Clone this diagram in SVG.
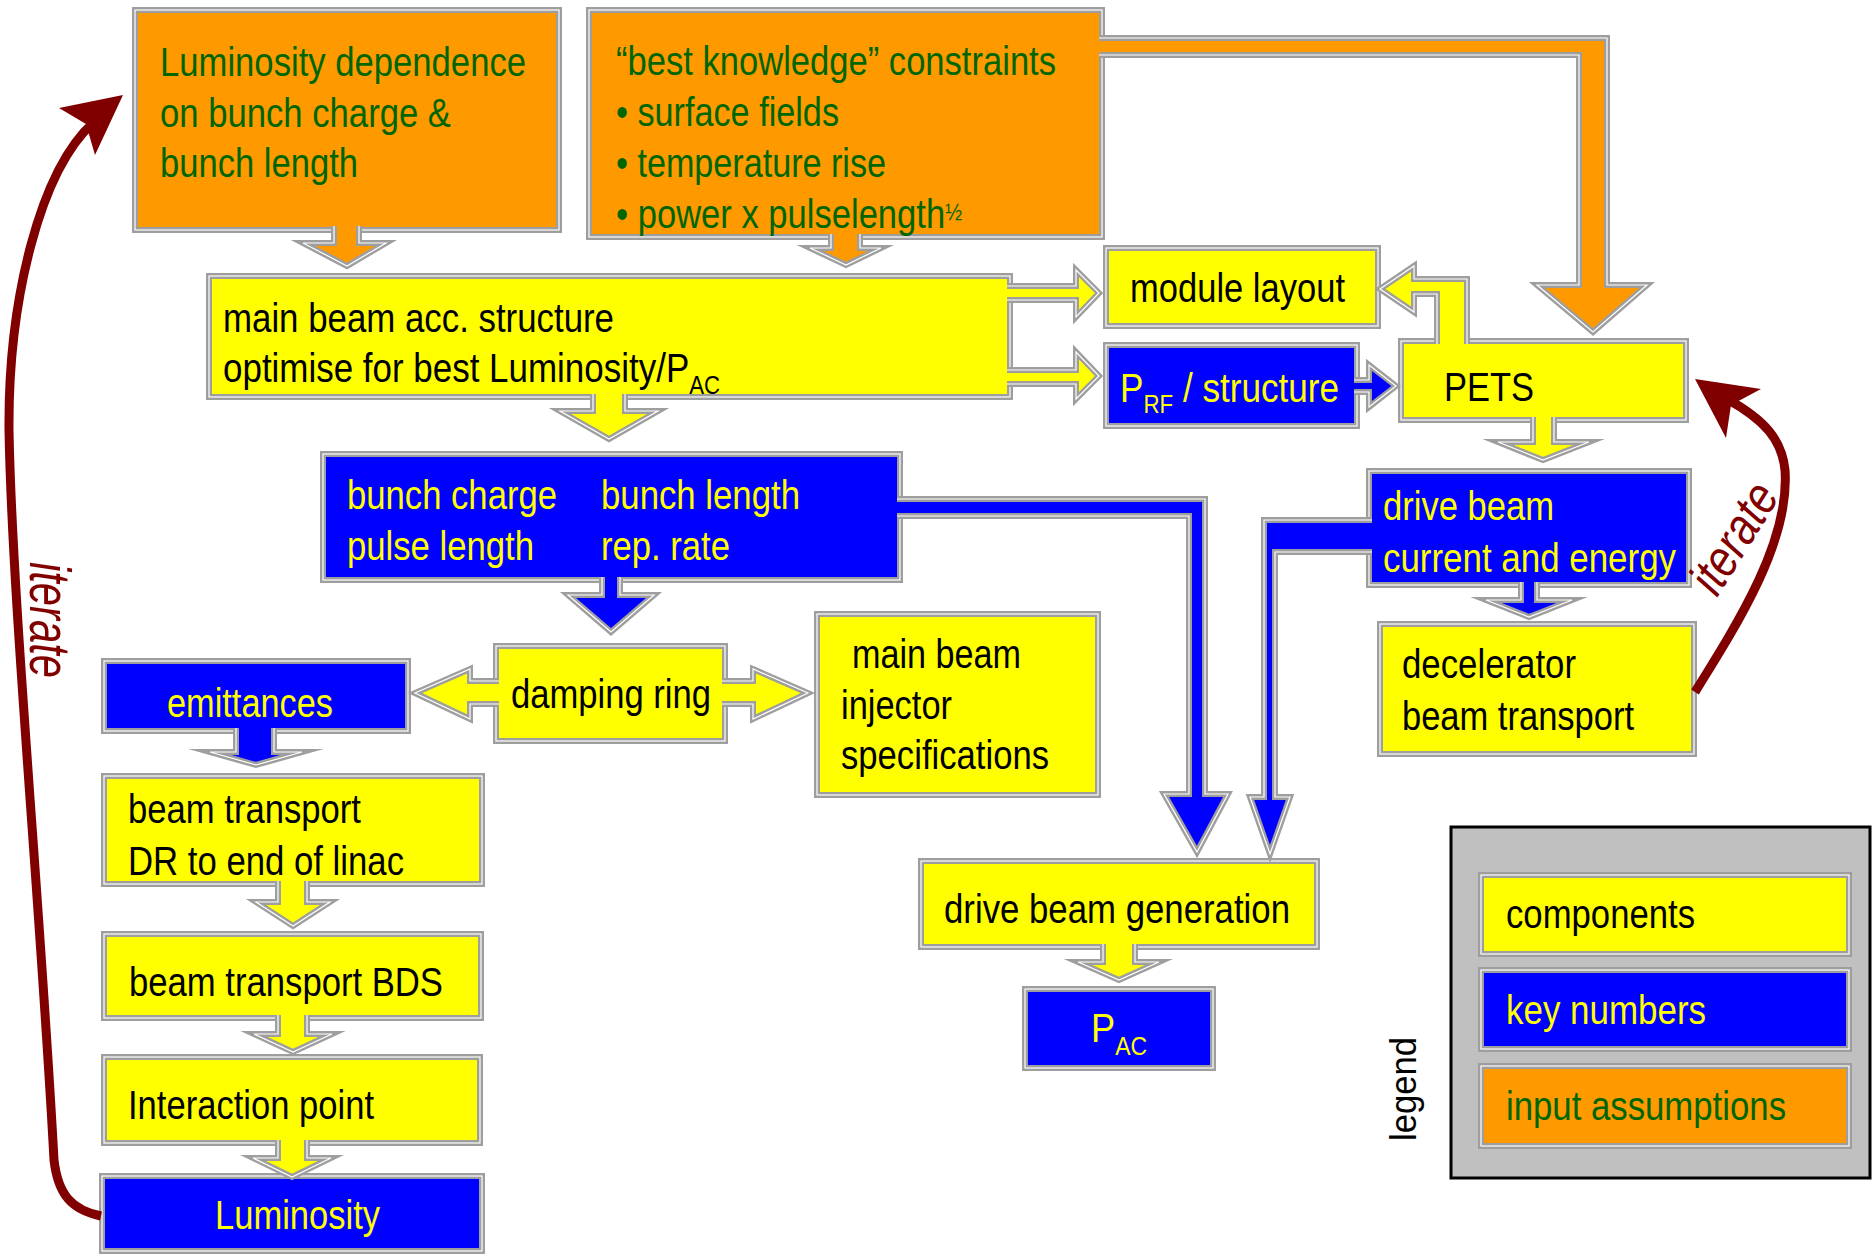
<svg xmlns="http://www.w3.org/2000/svg" width="1873" height="1256" viewBox="0 0 1873 1256">
<style>
.bx{stroke:#9e9e9e;stroke-width:6}
.mid{fill:none;stroke:#ffffff;stroke-width:1.2}
.ol{fill:none;stroke:#9e9e9e;stroke-width:6;stroke-miterlimit:10}
.y{fill:#ffff00}.b{fill:#0000ff}.o{fill:#ff9900}
.t{font-family:"Liberation Sans Narrow","Liberation Sans",Arial,sans-serif;font-size:41px}
.k{fill:#000000}.ty{fill:#ffff00}.g{fill:#006600}
.sub{font-size:26px}
.it{font-family:"Liberation Sans Narrow","Liberation Sans",Arial,sans-serif;font-style:italic;fill:#800000}
.red{fill:none;stroke:#800000;stroke-width:9}
.redh{fill:#800000}
</style>
<rect width="1873" height="1256" fill="#ffffff"/>

<g id="legend">
<rect x="1451" y="827" width="419" height="351" fill="#c0c0c0" stroke="#000000" stroke-width="3"/>
<text class="k" style="font-family:'Liberation Sans',Arial,sans-serif;font-size:37px" transform="translate(1416,1141) rotate(-90)" textLength="104" lengthAdjust="spacingAndGlyphs">legend</text>
<g id="legend-components"><rect class="bx y" x="1481" y="875" width="368" height="79"/><rect class="mid" x="1481" y="875" width="368" height="79"/>
<text class="t k" x="1506" y="928" textLength="189" lengthAdjust="spacingAndGlyphs">components</text></g>
<g id="legend-keynumbers"><rect class="bx b" x="1481" y="970" width="368" height="79"/><rect class="mid" x="1481" y="970" width="368" height="79"/>
<text class="t ty" x="1506" y="1024" textLength="200" lengthAdjust="spacingAndGlyphs">key numbers</text></g>
<g id="legend-input"><rect class="bx o" x="1481" y="1066" width="368" height="80"/><rect class="mid" x="1481" y="1066" width="368" height="80"/>
<text class="t g" x="1506" y="1120" textLength="280" lengthAdjust="spacingAndGlyphs">input assumptions</text></g>
</g>

<g id="n-lumdep"><rect class="bx o" x="135" y="10" width="424" height="220"/><rect class="mid" x="135" y="10" width="424" height="220"/>
<text class="t g" x="160" y="76" textLength="366" lengthAdjust="spacingAndGlyphs">Luminosity dependence</text>
<text class="t g" x="160" y="127" textLength="291" lengthAdjust="spacingAndGlyphs">on bunch charge &amp;</text>
<text class="t g" x="160" y="177" textLength="198" lengthAdjust="spacingAndGlyphs">bunch length</text></g>

<g id="n-constraints"><rect class="bx o" x="589" y="10" width="513" height="227"/><rect class="mid" x="589" y="10" width="513" height="227"/>
<text class="t g" x="616" y="75" textLength="440" lengthAdjust="spacingAndGlyphs">“best knowledge” constraints</text>
<text class="t g" x="616" y="126" textLength="223" lengthAdjust="spacingAndGlyphs">• surface fields</text>
<text class="t g" x="616" y="177" textLength="270" lengthAdjust="spacingAndGlyphs">• temperature rise</text>
<text class="t g" x="616" y="228" textLength="346" lengthAdjust="spacingAndGlyphs">• power x pulselength<tspan dy="-8" style="font-size:24px">½</tspan></text></g>

<g id="n-mainbeam"><rect class="bx y" x="209" y="276" width="801" height="121"/><rect class="mid" x="209" y="276" width="801" height="121"/>
<text class="t k" x="223" y="332" textLength="391" lengthAdjust="spacingAndGlyphs">main beam acc. structure</text>
<text class="t k" x="223" y="382" textLength="497" lengthAdjust="spacingAndGlyphs">optimise for best Luminosity/P<tspan dy="12" class="sub">AC</tspan></text></g>

<g id="n-module"><rect class="bx y" x="1106" y="248" width="272" height="78"/><rect class="mid" x="1106" y="248" width="272" height="78"/>
<text class="t k" x="1130" y="302" textLength="215" lengthAdjust="spacingAndGlyphs">module layout</text></g>

<g id="n-prf"><rect class="bx b" x="1106" y="345" width="251" height="81"/><rect class="mid" x="1106" y="345" width="251" height="81"/>
<text class="t ty" x="1120" y="402" textLength="219" lengthAdjust="spacingAndGlyphs">P<tspan dy="11" class="sub">RF</tspan><tspan dy="-11"> / structure</tspan></text></g>

<g id="n-pets"><rect class="bx y" x="1401" y="341" width="285" height="79"/><rect class="mid" x="1401" y="341" width="285" height="79"/>
<text class="t k" x="1444" y="401" textLength="90" lengthAdjust="spacingAndGlyphs">PETS</text></g>

<g id="n-bunch"><rect class="bx b" x="323" y="454" width="577" height="126"/><rect class="mid" x="323" y="454" width="577" height="126"/>
<text class="t ty" x="347" y="509" textLength="210" lengthAdjust="spacingAndGlyphs">bunch charge</text>
<text class="t ty" x="347" y="560" textLength="187" lengthAdjust="spacingAndGlyphs">pulse length</text>
<text class="t ty" x="601" y="509" textLength="199" lengthAdjust="spacingAndGlyphs">bunch length</text>
<text class="t ty" x="601" y="560" textLength="129" lengthAdjust="spacingAndGlyphs">rep. rate</text></g>

<g id="n-drivebeam"><rect class="bx b" x="1369" y="471" width="320" height="114"/><rect class="mid" x="1369" y="471" width="320" height="114"/>
<text class="t ty" x="1383" y="520" textLength="171" lengthAdjust="spacingAndGlyphs">drive beam</text>
<text class="t ty" x="1383" y="572" textLength="293" lengthAdjust="spacingAndGlyphs">current and energy</text></g>

<g id="n-damping"><rect class="bx y" x="496" y="646" width="229" height="95"/><rect class="mid" x="496" y="646" width="229" height="95"/>
<text class="t k" x="511" y="708" textLength="200" lengthAdjust="spacingAndGlyphs">damping ring</text></g>

<g id="n-injector"><rect class="bx y" x="817" y="614" width="281" height="181"/><rect class="mid" x="817" y="614" width="281" height="181"/>
<text class="t k" x="852" y="668" textLength="169" lengthAdjust="spacingAndGlyphs">main beam</text>
<text class="t k" x="841" y="719" textLength="111" lengthAdjust="spacingAndGlyphs">injector</text>
<text class="t k" x="841" y="769" textLength="208" lengthAdjust="spacingAndGlyphs">specifications</text></g>

<g id="n-emittances"><rect class="bx b" x="104" y="661" width="304" height="70"/><rect class="mid" x="104" y="661" width="304" height="70"/>
<text class="t ty" x="167" y="717" textLength="166" lengthAdjust="spacingAndGlyphs">emittances</text></g>

<g id="n-decelerator"><rect class="bx y" x="1380" y="624" width="314" height="130"/><rect class="mid" x="1380" y="624" width="314" height="130"/>
<text class="t k" x="1402" y="678" textLength="174" lengthAdjust="spacingAndGlyphs">decelerator</text>
<text class="t k" x="1402" y="730" textLength="232" lengthAdjust="spacingAndGlyphs">beam transport</text></g>

<g id="n-transport-linac"><rect class="bx y" x="104" y="776" width="378" height="108"/><rect class="mid" x="104" y="776" width="378" height="108"/>
<text class="t k" x="128" y="823" textLength="233" lengthAdjust="spacingAndGlyphs">beam transport</text>
<text class="t k" x="128" y="875" textLength="276" lengthAdjust="spacingAndGlyphs">DR to end of linac</text></g>

<g id="n-bds"><rect class="bx y" x="104" y="934" width="377" height="84"/><rect class="mid" x="104" y="934" width="377" height="84"/>
<text class="t k" x="129" y="996" textLength="314" lengthAdjust="spacingAndGlyphs">beam transport BDS</text></g>

<g id="n-ip"><rect class="bx y" x="104" y="1057" width="376" height="86"/><rect class="mid" x="104" y="1057" width="376" height="86"/>
<text class="t k" x="128" y="1119" textLength="246" lengthAdjust="spacingAndGlyphs">Interaction point</text></g>

<g id="n-luminosity"><rect class="bx b" x="102" y="1176" width="380" height="75"/><rect class="mid" x="102" y="1176" width="380" height="75"/>
<text class="t ty" x="215" y="1229" textLength="165" lengthAdjust="spacingAndGlyphs">Luminosity</text></g>

<g id="n-dbgen"><rect class="bx y" x="921" y="861" width="396" height="86"/><rect class="mid" x="921" y="861" width="396" height="86"/>
<text class="t k" x="944" y="923" textLength="346" lengthAdjust="spacingAndGlyphs">drive beam generation</text></g>

<g id="n-pac"><rect class="bx b" x="1025" y="989" width="188" height="79"/><rect class="mid" x="1025" y="989" width="188" height="79"/>
<text class="t ty" x="1091" y="1042" textLength="56" lengthAdjust="spacingAndGlyphs">P<tspan dy="13" class="sub">AC</tspan></text></g>

<g id="connectors">
<path class="o" d="M334,226 V243 H303 L347,266 L386,243 H359 V226 Z"/><path class="ol" d="M334,226 V243 H303 L347,266 L386,243 H359 V226"/><path class="mid" d="M334,226 V243 H303 L347,266 L386,243 H359 V226"/>
<path class="o" d="M831,234 V248 H810 L846,265 L881,248 H860 V234 Z"/><path class="ol" d="M831,234 V248 H810 L846,265 L881,248 H860 V234"/><path class="mid" d="M831,234 V248 H810 L846,265 L881,248 H860 V234"/>
<path class="o" d="M1099,38 H1607 V285 H1647 L1593,332 L1537,285 H1579 V55 H1099 Z"/><path class="ol" d="M1099,38 H1607 V285 H1647 L1593,332 L1537,285 H1579 V55 H1099"/><path class="mid" d="M1099,38 H1607 V285 H1647 L1593,332 L1537,285 H1579 V55 H1099"/>
<path class="y" d="M1007,286 H1076 V270 L1099,293 L1076,317 V300 H1007 Z"/><path class="ol" d="M1007,286 H1076 V270 L1099,293 L1076,317 V300 H1007"/><path class="mid" d="M1007,286 H1076 V270 L1099,293 L1076,317 V300 H1007"/>
<path class="y" d="M1007,370 H1076 V352 L1099,376 L1076,399 V384 H1007 Z"/><path class="ol" d="M1007,370 H1076 V352 L1099,376 L1076,399 V384 H1007"/><path class="mid" d="M1007,370 H1076 V352 L1099,376 L1076,399 V384 H1007"/>
<path class="b" d="M1354,380 H1369 V365 L1396,386 L1369,407 V392 H1354 Z"/><path class="ol" d="M1354,380 H1369 V365 L1396,386 L1369,407 V392 H1354"/><path class="mid" d="M1354,380 H1369 V365 L1396,386 L1369,407 V392 H1354"/>
<path class="y" d="M1437,344 V294 H1414 V312 L1380,289 L1414,266 V279 H1467 V344 Z"/><path class="ol" d="M1437,344 V294 H1414 V312 L1380,289 L1414,266 V279 H1467 V344"/><path class="mid" d="M1437,344 V294 H1414 V312 L1380,289 L1414,266 V279 H1467 V344"/>
<path class="y" d="M593,394 V411 H560 L609,439 L658,411 H625 V394 Z"/><path class="ol" d="M593,394 V411 H560 L609,439 L658,411 H625 V394"/><path class="mid" d="M593,394 V411 H560 L609,439 L658,411 H625 V394"/>
<path class="b" d="M602,577 V595 H568 L611,632 L654,595 H620 V577 Z"/><path class="ol" d="M602,577 V595 H568 L611,632 L654,595 H620 V577"/><path class="mid" d="M602,577 V595 H568 L611,632 L654,595 H620 V577"/>
<path class="y" d="M499,681 H470 V669 L415,693 L470,719 V704 H499 Z"/><path class="ol" d="M499,681 H470 V669 L415,693 L470,719 V704 H499"/><path class="mid" d="M499,681 H470 V669 L415,693 L470,719 V704 H499"/>
<path class="y" d="M722,681 H753 V669 L808,693 L753,719 V704 H722 Z"/><path class="ol" d="M722,681 H753 V669 L808,693 L753,719 V704 H722"/><path class="mid" d="M722,681 H753 V669 L808,693 L753,719 V704 H722"/>
<path class="b" d="M236,728 V752 H210 L256,765 L302,752 H274 V728 Z"/><path class="ol" d="M236,728 V752 H210 L256,765 L302,752 H274 V728"/><path class="mid" d="M236,728 V752 H210 L256,765 L302,752 H274 V728"/>
<path class="y" d="M278,881 V902 H256 L293,926 L330,902 H307 V881 Z"/><path class="ol" d="M278,881 V902 H256 L293,926 L330,902 H307 V881"/><path class="mid" d="M278,881 V902 H256 L293,926 L330,902 H307 V881"/>
<path class="y" d="M278,1015 V1034 H254 L293,1052 L332,1034 H307 V1015 Z"/><path class="ol" d="M278,1015 V1034 H254 L293,1052 L332,1034 H307 V1015"/><path class="mid" d="M278,1015 V1034 H254 L293,1052 L332,1034 H307 V1015"/>
<path class="y" d="M278,1140 V1158 H253 L292,1177 L331,1158 H307 V1140 Z"/><path class="ol" d="M278,1140 V1158 H253 L292,1177 L331,1158 H307 V1140"/><path class="mid" d="M278,1140 V1158 H253 L292,1177 L331,1158 H307 V1140"/>
<path class="b" d="M897,499 H1205 V794 H1228 L1197,852 L1164,794 H1189 V516 H897 Z"/><path class="ol" d="M897,499 H1205 V794 H1228 L1197,852 L1164,794 H1189 V516 H897"/><path class="mid" d="M897,499 H1205 V794 H1228 L1197,852 L1164,794 H1189 V516 H897"/>
<path class="b" d="M1372,520 H1264 V797 H1250 L1270,854 L1290,797 H1275 V552 H1372 Z"/><path class="ol" d="M1372,520 H1264 V797 H1250 L1270,854 L1290,797 H1275 V552 H1372"/><path class="mid" d="M1372,520 H1264 V797 H1250 L1270,854 L1290,797 H1275 V552 H1372"/>
<path class="y" d="M1533,417 V442 H1498 L1543,460 L1589,442 H1554 V417 Z"/><path class="ol" d="M1533,417 V442 H1498 L1543,460 L1589,442 H1554 V417"/><path class="mid" d="M1533,417 V442 H1498 L1543,460 L1589,442 H1554 V417"/>
<path class="b" d="M1521,582 V600 H1486 L1529,617 L1572,600 H1537 V582 Z"/><path class="ol" d="M1521,582 V600 H1486 L1529,617 L1572,600 H1537 V582"/><path class="mid" d="M1521,582 V600 H1486 L1529,617 L1572,600 H1537 V582"/>
<path class="y" d="M1103,944 V962 H1078 L1119,980 L1159,962 H1135 V944 Z"/><path class="ol" d="M1103,944 V962 H1078 L1119,980 L1159,962 H1135 V944"/><path class="mid" d="M1103,944 V962 H1078 L1119,980 L1159,962 H1135 V944"/>

<g id="iterate-left">
<path class="red" d="M101,1216 C72,1210 58,1195 54,1160 C40,900 12,600 9,430 C8,300 40,170 94,122"/>
<polygon class="redh" points="123,95 59,108 86,124 95,155"/>
<text class="it" style="font-size:58px" transform="translate(30,562) rotate(90)" textLength="116" lengthAdjust="spacingAndGlyphs">iterate</text>
</g>
<g id="iterate-right">
<path class="red" d="M1695,692 C1740,620 1790,540 1785,470 C1782,440 1765,420 1727,399"/>
<polygon class="redh" points="1695,379 1761,389 1731,405 1726,438"/>
<text class="it" style="font-size:52px" transform="translate(1717,598) rotate(-58)" textLength="120" lengthAdjust="spacingAndGlyphs">iterate</text>
</g>
</g>
</svg>
